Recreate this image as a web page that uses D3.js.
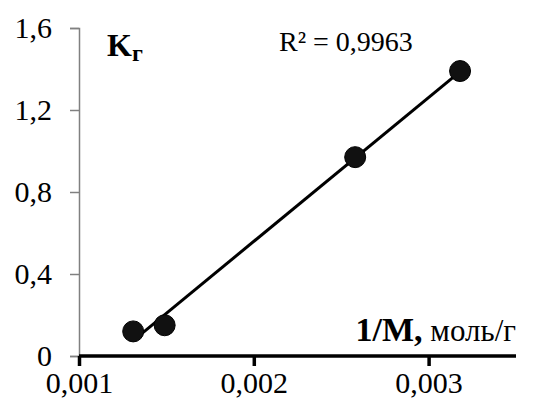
<!DOCTYPE html>
<html>
<head>
<meta charset="utf-8">
<script src="https://cdn.jsdelivr.net/npm/d3@7"></script>
<style>
  body { margin: 0; background: #fff; }
  text { font-family: "Liberation Serif", "Times New Roman", serif; }
</style>
</head>
<body>
<div id="chart"></div>
<script>
// Data

var invM = [0.00131, 0.00149, 0.00258, 0.00318];
var kG = [0.12, 0.15, 0.97, 1.39];
var xTicks = [0.001, 0.002, 0.003];
var yTicks = [0, 0.4, 0.8, 1.2, 1.6];
var r2Label = "R² = 0,9963";

// Dimensions

var width = 533, height = 408;
var margin = {left: 79, top: 28, right: 17, bottom: 52};

var svg = d3.select("#chart").append("svg")
    .attr("width", width)
    .attr("height", height);

var x = d3.scaleLinear()
    .domain([0.001, 0.0035])
    .range([margin.left, width - margin.right]);

var y = d3.scaleLinear()
    .domain([0, 1.6])
    .range([height - margin.bottom, margin.top]);

var comma = function(d) { return String(d).replace(".", ","); };

// Y axis (thin, grey)

var yAxis = svg.append("g")
    .attr("transform", "translate(" + margin.left + ",0)")
    .call(d3.axisLeft(y).tickValues(yTicks).tickSize(9).tickPadding(18).tickFormat(comma));

yAxis.select(".domain").attr("stroke", "#808080").attr("stroke-width", 1.5);
yAxis.selectAll(".tick line").attr("stroke", "#808080").attr("stroke-width", 1.5);
yAxis.selectAll(".tick text")
    .attr("fill", "#000")
    .style("font-family", "'Liberation Serif', serif")
    .style("font-size", "30px");

// X axis (thick, black)

var xAxis = svg.append("g")
    .attr("transform", "translate(0," + y(0) + ")")
    .call(d3.axisBottom(x).tickValues(xTicks).tickSize(10).tickPadding(6).tickFormat(comma));

xAxis.select(".domain").attr("stroke", "#000").attr("stroke-width", 3.5)
    .attr("d", "M" + x(0.001) + ",0H" + x(0.0035));
xAxis.selectAll(".tick line").attr("stroke", "#000").attr("stroke-width", 3.5);
xAxis.selectAll(".tick text")
    .attr("fill", "#000")
    .style("font-family", "'Liberation Serif', serif")
    .style("font-size", "30px");

// Linear trend line

var mx = d3.mean(invM), my = d3.mean(kG);
var slope = d3.sum(invM, function(v, i) { return (v - mx) * (kG[i] - my); }) /
            d3.sum(invM, function(v) { return (v - mx) * (v - mx); });
var icpt = my - slope * mx;
var xs = d3.extent(invM);

svg.append("line")
    .attr("x1", x(xs[0])).attr("y1", y(icpt + slope * xs[0]))
    .attr("x2", x(xs[1])).attr("y2", y(icpt + slope * xs[1]))
    .attr("stroke", "#000")
    .attr("stroke-width", 3);

// Points

svg.selectAll("circle.pt")
    .data(invM)
    .enter()
    .append("circle")
    .attr("class", "pt")
    .attr("cx", function(d) { return x(d); })
    .attr("cy", function(d, i) { return y(kG[i]); })
    .attr("r", 10.5)
    .attr("fill", "#111")
    .attr("stroke", "#000")
    .attr("stroke-width", 1);

// Labels

var kLabel = svg.append("text")
    .attr("x", 107)
    .attr("y", 56)
    .attr("font-size", 32)
    .attr("font-weight", "bold");
kLabel.append("tspan").text("K");
kLabel.append("tspan").attr("font-size", 24).attr("dy", 5).text("г");

svg.append("text")
    .attr("x", 279)
    .attr("y", 51)
    .attr("font-size", 28)
    .text(r2Label);

var xLabel = svg.append("text")
    .attr("x", 516)
    .attr("y", 341)
    .attr("text-anchor", "end");
xLabel.append("tspan").attr("font-size", 34).attr("font-weight", "bold").text("1/M,");
xLabel.append("tspan").attr("font-size", 31).text(" моль/г");
</script>
</body>
</html>
